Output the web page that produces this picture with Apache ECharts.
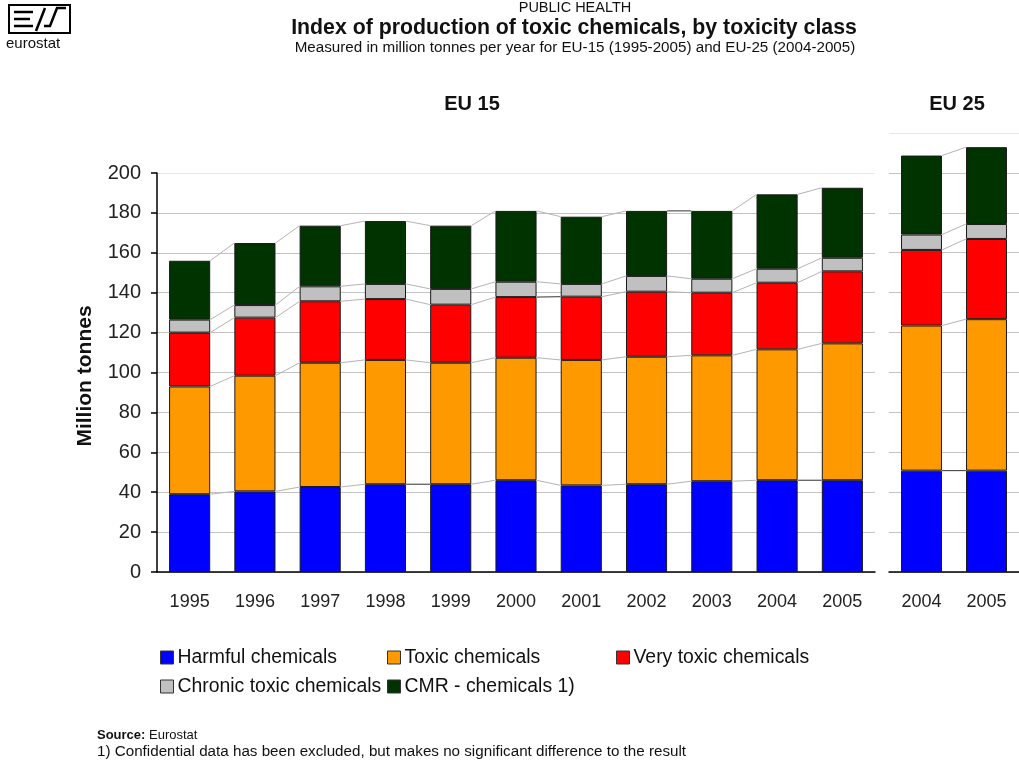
<!DOCTYPE html>
<html>
<head>
<meta charset="utf-8">
<script src="https://cdn.jsdelivr.net/npm/echarts@6/dist/echarts.min.js"></script>
<style>
html,body{margin:0;padding:0;background:#fff;}
#chart{width:1019px;height:765px;}
</style>
</head>
<body>
<div id="chart"></div>
<script>
// ---- Data ----
const years15 = ['1995','1996','1997','1998','1999','2000','2001','2002','2003','2004','2005'];
const years25 = ['2004','2005'];
const seriesNames = ['Harmful chemicals','Toxic chemicals','Very toxic chemicals','Chronic toxic chemicals','CMR - chemicals 1)'];
const harmful15  = [39, 40.4, 42.6, 44, 44, 46, 43.4, 44, 45.5, 46, 46];
const toxic15    = [54, 58, 62.3, 62.3, 60.9, 61.4, 62.9, 63.9, 63.1, 65.6, 68.6];
const veryToxic15= [27, 29.1, 30.8, 30.5, 29.1, 30.4, 31.7, 32.6, 31.4, 33.4, 36.1];
const chronic15  = [6.5, 6.3, 7.5, 7.6, 7.9, 7.7, 6.4, 7.9, 7, 7, 6.8];
const cmr15      = [29.5, 31.1, 30.4, 31.5, 31.7, 35.5, 33.7, 32.6, 34, 37.3, 35.1];
const harmful25  = [50.8, 50.8];
const toxic25    = [72.7, 75.9];
const veryToxic25= [37.9, 40.2];
const chronic25  = [7.7, 7.5];
const cmr25      = [39.6, 38.5];
const yTicks15 = [0,20,40,60,80,100,120,140,160,180,200];
const yTicks25 = [0,20,40,60,80,100,120,140,160,180,200,220];

const colors = ['#0000ff','#ff9900','#ff0000','#c0c0c0','#003300'];
const FONT = '"Liberation Sans", Arial, sans-serif';

const data15 = [harmful15, toxic15, veryToxic15, chronic15, cmr15];
const data25 = [harmful25, toxic25, veryToxic25, chronic25, cmr25];

function cumLevels(arrs, i) {
  const out = []; let s = 0;
  arrs.forEach(a => { s += a[i]; out.push(s); });
  return out;
}
function seriesLines(arrs, n, xi) {
  return {
    type: 'custom', xAxisIndex: xi, yAxisIndex: xi, z: 1, silent: true,
    data: Array.from({length: n - 1}, (_, i) => [i, 0]),
    renderItem: function (params, api) {
      const i = params.dataIndex;
      const band = api.size([1, 0])[0];
      const bw = band * 0.63;
      const c1 = cumLevels(arrs, i), c2 = cumLevels(arrs, i + 1);
      const children = [];
      for (let k = 0; k < c1.length; k++) {
        const p1 = api.coord([i, c1[k]]);
        const p2 = api.coord([i + 1, c2[k]]);
        const flat = Math.abs(c1[k] - c2[k]) < 0.3;
        children.push({
          type: 'line',
          shape: {x1: p1[0] + bw / 2, y1: p1[1], x2: p2[0] - bw / 2, y2: p2[1]},
          style: {stroke: flat ? '#333' : '#b4b4b4', lineWidth: 1}
        });
      }
      return {type: 'group', children: children};
    }
  };
}

const series = [];
seriesNames.forEach((name, k) => {
  series.push({
    name: name, type: 'bar', stack: 'eu15', xAxisIndex: 0, yAxisIndex: 0,
    barWidth: '63%', data: data15[k], z: 2,
    itemStyle: {color: colors[k], borderColor: '#1a1a1a', borderWidth: 1}
  });
  series.push({
    name: name, type: 'bar', stack: 'eu25', xAxisIndex: 1, yAxisIndex: 1,
    barWidth: '63%', data: data25[k], z: 2,
    itemStyle: {color: colors[k], borderColor: '#1a1a1a', borderWidth: 1}
  });
});
series.push(seriesLines(data15, years15.length, 0));
series.push(seriesLines(data25, years25.length, 1));

const gridColors15 = yTicks15.map((v, i, a) => i === a.length - 1 ? '#e8e8e8' : '#c4c4c4');
const gridColors25 = yTicks25.map((v, i, a) => i === a.length - 1 ? '#e8e8e8' : '#c4c4c4');

const legendPos = [[160, 648], [387, 648], [616, 648], [160, 677], [387, 677]];
const legends = seriesNames.map((n, k) => ({
  data: [n], left: legendPos[k][0], top: legendPos[k][1],
  icon: 'rect', itemWidth: 13, itemHeight: 13, itemGap: 0,
  padding: 0, selectedMode: false,
  itemStyle: {borderColor: '#333', borderWidth: 1},
  textStyle: {fontFamily: FONT, fontSize: 19.4, color: '#111', padding: [0, 0, 0, -1]}
}));

const option = {
  backgroundColor: '#fff',
  animation: false,
  textStyle: {fontFamily: FONT},
  legend: legends,
  grid: [
    {left: 157, top: 173, width: 718, height: 399},
    {left: 889, top: 133, width: 132, height: 439}
  ],
  xAxis: [
    {type: 'category', gridIndex: 0, data: years15,
     axisLine: {lineStyle: {color: '#000', width: 1.5}},
     axisTick: {length: 6, lineStyle: {color: '#000', width: 1.5}},
     axisLabel: {fontFamily: FONT, fontSize: 18, color: '#222', margin: 21}},
    {type: 'category', gridIndex: 1, data: years25,
     axisLine: {lineStyle: {color: '#000', width: 1.5}},
     axisTick: {length: 6, lineStyle: {color: '#000', width: 1.5}},
     axisLabel: {fontFamily: FONT, fontSize: 18, color: '#222', margin: 21}}
  ],
  yAxis: [
    {type: 'value', gridIndex: 0, min: 0, max: 200, interval: 20,
     axisLine: {show: true, lineStyle: {color: '#000', width: 1.5}},
     axisTick: {show: true, length: 6, lineStyle: {color: '#000', width: 1.5}},
     axisLabel: {fontFamily: FONT, fontSize: 20, color: '#222', margin: 16},
     splitLine: {lineStyle: {color: gridColors15, width: 1}}},
    {type: 'value', gridIndex: 1, min: 0, max: 220, interval: 20,
     axisLine: {show: false}, axisTick: {show: false}, axisLabel: {show: false},
     splitLine: {lineStyle: {color: gridColors25, width: 1}}}
  ],
  graphic: [
    {type: 'text', x: 575, y: 8, style: {text: 'PUBLIC HEALTH', fontFamily: FONT, fontSize: 14.5, fill: '#111', textAlign: 'center', textVerticalAlign: 'middle'}},
    {type: 'text', x: 574, y: 28, style: {text: 'Index of production of toxic chemicals, by toxicity class', fontFamily: FONT, fontSize: 21.3, fontWeight: 'bold', fill: '#111', textAlign: 'center', textVerticalAlign: 'middle'}},
    {type: 'text', x: 575, y: 48, style: {text: 'Measured in million tonnes per year for EU-15 (1995-2005) and EU-25 (2004-2005)', fontFamily: FONT, fontSize: 15.2, fill: '#111', textAlign: 'center', textVerticalAlign: 'middle'}},
    {type: 'text', x: 472, y: 104, style: {text: 'EU 15', fontFamily: FONT, fontSize: 20, fontWeight: 'bold', fill: '#111', textAlign: 'center', textVerticalAlign: 'middle'}},
    {type: 'text', x: 957, y: 104, style: {text: 'EU 25', fontFamily: FONT, fontSize: 20, fontWeight: 'bold', fill: '#111', textAlign: 'center', textVerticalAlign: 'middle'}},
    {type: 'text', x: 85, y: 376, rotation: Math.PI / 2, style: {text: 'Million tonnes', fontFamily: FONT, fontSize: 21, fontWeight: 'bold', fill: '#111', textAlign: 'center', textVerticalAlign: 'middle'}},
    {type: 'text', x: 97, y: 735, style: {text: 'Source:', fontFamily: FONT, fontSize: 13, fontWeight: 'bold', fill: '#111', textVerticalAlign: 'middle'}},
    {type: 'text', x: 149, y: 735, style: {text: 'Eurostat', fontFamily: FONT, fontSize: 13, fill: '#111', textVerticalAlign: 'middle'}},
    {type: 'text', x: 97, y: 752, style: {text: '1) Confidential data has been excluded, but makes no significant difference to the result', fontFamily: FONT, fontSize: 15.2, fill: '#111', textVerticalAlign: 'middle'}},
    // logo
    {type: 'rect', shape: {x: 9, y: 5, width: 61, height: 28}, style: {fill: 'none', stroke: '#000', lineWidth: 2}},
    {type: 'polyline', shape: {points: [[14, 12], [33, 12]]}, style: {stroke: '#000', lineWidth: 2.5}},
    {type: 'polyline', shape: {points: [[14, 19], [30, 19]]}, style: {stroke: '#000', lineWidth: 2.5}},
    {type: 'polyline', shape: {points: [[14, 26], [33, 26]]}, style: {stroke: '#000', lineWidth: 2.5}},
    {type: 'polyline', shape: {points: [[36, 31], [45, 8]]}, style: {stroke: '#000', lineWidth: 2.5}},
    {type: 'polyline', shape: {points: [[44, 26], [50, 26], [57, 8], [66, 8]]}, style: {stroke: '#000', lineWidth: 2.5}},
    {type: 'text', x: 6, y: 44, style: {text: 'eurostat', fontFamily: FONT, fontSize: 15, fill: '#111', textVerticalAlign: 'middle'}}
  ],
  series: series
};

const chart = echarts.init(document.getElementById('chart'), null, {renderer: 'canvas'});
chart.setOption(option);
</script>
</body>
</html>
